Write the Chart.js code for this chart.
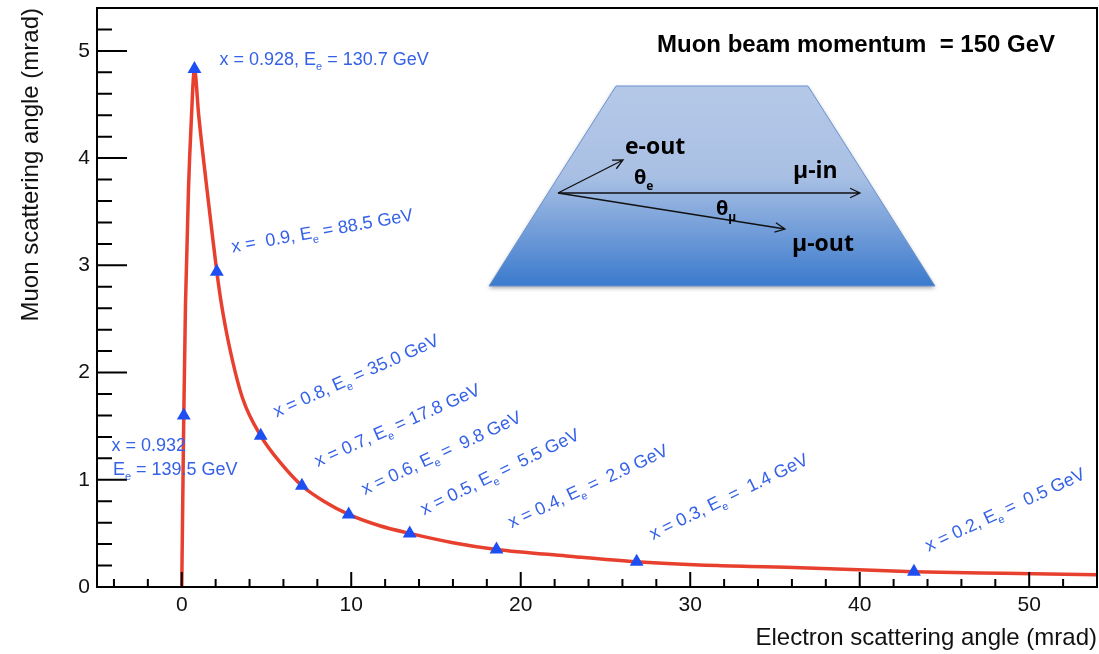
<!DOCTYPE html>
<html>
<head>
<meta charset="utf-8">
<script src="https://cdn.jsdelivr.net/npm/chart.js@4.4.0/dist/chart.umd.min.js"></script>
<style>
html, body { margin: 0; padding: 0; background: #fff; }
</style>
</head>
<body>
<canvas id="myChart" width="1099" height="654"></canvas>
<script>
// red curve (electron angle, muon angle) in mrad
const curveX = [0, 0.06, 0.12, 0.22, 0.40, 0.56, 0.75, 1.00, 1.45, 1.80, 2.07, 2.32, 2.80, 3.59, 4.66, 5.87, 7.09, 8.43, 9.85, 11.68, 13.45, 16.0, 18.57, 22.7, 26.84, 31.6, 36.5, 43.2, 48.5, 54]
const curveY = [0, 0.81, 1.60, 2.63, 3.72, 4.34, 4.83, 4.40, 3.76, 3.29, 2.94, 2.66, 2.25, 1.76, 1.41, 1.15, 0.944, 0.795, 0.677, 0.571, 0.50, 0.413, 0.35, 0.29, 0.236, 0.20, 0.18, 0.143, 0.128, 0.115]

// blue triangles
const markX = [0.12, 0.75, 2.07, 4.66, 7.09, 9.85, 13.45, 18.57, 26.84, 43.2]
const markY = [1.60, 4.83, 2.94, 1.41, 0.944, 0.677, 0.50, 0.35, 0.236, 0.143]
const markText = ['x = 0.932\nE_e = 139.5 GeV', 'x = 0.928, E_e = 130.7 GeV', 'x =  0.9, E_e = 88.5 GeV',
  'x = 0.8, E_e = 35.0 GeV', 'x = 0.7, E_e = 17.8 GeV', 'x = 0.6, E_e =  9.8 GeV', 'x = 0.5, E_e =  5.5 GeV',
  'x = 0.4, E_e =  2.9 GeV', 'x = 0.3, E_e =  1.4 GeV', 'x = 0.2, E_e =  0.5 GeV']

const xTicks = [0, 10, 20, 30, 40, 50]
const yTicks = [0, 1, 2, 3, 4, 5]

// where the labels sit (data units) and their tilt in degrees
const labelX = [-4.15, 2.23, 2.99, 5.59, 8.03, 10.8, 14.3, 19.46, 27.8, 44.06]
const labelY = [1.27, 4.87, 3.12, 1.58, 1.12, 0.857, 0.67, 0.547, 0.438, 0.329]
const labelAngle = [0, 0, -10, -24, -24, -25, -26, -25, -26, -25]

const FONT = '"Liberation Sans", Arial, sans-serif'

// draw text where "_e" / "_m" means subscript e / mu
function richText(ctx, str, x, y, size, family, weight) {
  const parts = str.split(/_(e|m)/)
  let cx = x
  for (let i = 0; i < parts.length; i++) {
    if (i % 2 == 0) {
      ctx.font = weight + ' ' + size + 'px ' + family
      ctx.fillText(parts[i], cx, y)
      cx += ctx.measureText(parts[i]).width
    } else {
      const s = parts[i] == 'e' ? 'e' : 'μ'
      const sub = Math.round(size * 0.62)
      ctx.font = weight + ' ' + sub + 'px ' + family
      ctx.fillText(s, cx, y + size * 0.28)
      cx += ctx.measureText(s).width
    }
  }
}

function arrow(ctx, x1, y1, x2, y2) {
  ctx.beginPath()
  ctx.moveTo(x1, y1)
  ctx.lineTo(x2, y2)
  const a = Math.atan2(y2 - y1, x2 - x1)
  const h = 11
  ctx.moveTo(x2 - h * Math.cos(a - 0.45), y2 - h * Math.sin(a - 0.45))
  ctx.lineTo(x2, y2)
  ctx.lineTo(x2 - h * Math.cos(a + 0.45), y2 - h * Math.sin(a + 0.45))
  ctx.stroke()
}

const decor = {
  id: 'decor',
  afterDraw(chart) {
    const ctx = chart.ctx
    const xs = chart.scales.x, ys = chart.scales.y
    const a = chart.chartArea
    ctx.save()

    // inward ticks
    ctx.strokeStyle = '#000'
    ctx.lineWidth = 2
    ctx.beginPath()
    for (let i = -2; i <= 27; i++) {
      const px = xs.getPixelForValue(i * 2)
      if (px <= a.left + 1 || px >= a.right - 1) continue
      const len = (i % 5 == 0) ? 15 : 8
      ctx.moveTo(px, a.bottom)
      ctx.lineTo(px, a.bottom - len)
    }
    for (let i = 1; i <= 27; i++) {
      const py = ys.getPixelForValue(i * 0.2)
      if (py <= a.top + 1) continue
      const len = (i % 5 == 0) ? 30 : 15
      ctx.moveTo(a.left, py)
      ctx.lineTo(a.left + len, py)
    }
    ctx.stroke()
    ctx.strokeRect(a.left, a.top, a.right - a.left, a.bottom - a.top)

    // point labels
    ctx.fillStyle = '#3561e8'
    ctx.textBaseline = 'alphabetic'
    ctx.textAlign = 'left'
    for (let i = 0; i < markText.length; i++) {
      const px = xs.getPixelForValue(labelX[i])
      const py = ys.getPixelForValue(labelY[i])
      ctx.save()
      ctx.translate(px, py)
      ctx.rotate(labelAngle[i] * Math.PI / 180)
      const lines = markText[i].split('\n')
      lines.forEach((ln, k) => richText(ctx, ln, k * 1.5, k * 24, 18, FONT, 'normal'))
      ctx.restore()
    }

    // title
    ctx.fillStyle = '#000'
    ctx.font = 'bold 24px ' + FONT
    ctx.fillText('Muon beam momentum  = 150 GeV', 657, 52)

    // inset sketch
    ctx.save()
    const g = ctx.createLinearGradient(0, 86, 0, 286)
    g.addColorStop(0, '#b5c8e8')
    g.addColorStop(0.45, '#a9c0e4')
    g.addColorStop(1, '#3b7acd')
    ctx.shadowColor = 'rgba(0,0,0,0.35)'
    ctx.shadowBlur = 4
    ctx.shadowOffsetY = 2
    ctx.beginPath()
    ctx.moveTo(616, 86)
    ctx.lineTo(808, 86)
    ctx.lineTo(935, 286)
    ctx.lineTo(489, 286)
    ctx.closePath()
    ctx.fillStyle = g
    ctx.fill()
    ctx.restore()
    ctx.strokeStyle = '#6a92d0'
    ctx.lineWidth = 1
    ctx.beginPath()
    ctx.moveTo(616, 86)
    ctx.lineTo(808, 86)
    ctx.lineTo(935, 286)
    ctx.lineTo(489, 286)
    ctx.closePath()
    ctx.stroke()

    ctx.strokeStyle = '#111'
    ctx.lineWidth = 1.3
    arrow(ctx, 558, 193, 623, 160)
    arrow(ctx, 558, 193, 860, 193)
    arrow(ctx, 558, 193, 785, 229)

    ctx.fillStyle = '#000'
    const IF = '"Open Sans", sans-serif'
    richText(ctx, 'e-out', 625, 154, 23, IF, 'bold')
    richText(ctx, 'θ_e', 634, 184, 20, IF, 'bold')
    richText(ctx, 'μ-in', 793, 178, 23, IF, 'bold')
    richText(ctx, 'θ_m', 716, 215, 20, IF, 'bold')
    richText(ctx, 'μ-out', 792, 251, 23, IF, 'bold')
    ctx.restore()
  }
}

const ctx = document.getElementById('myChart')
new Chart(ctx, {
  type: 'scatter',
  data: {
    datasets: [{
      label: 'points',
      data: markX.map((v, i) => ({x: v, y: markY[i]})),
      pointStyle: 'triangle',
      pointRadius: 8,
      pointBackgroundColor: '#1d4ff2',
      pointBorderWidth: 0,
      showLine: false
    }, {
      label: 'curve',
      data: curveX.map((v, i) => ({x: v, y: curveY[i]})),
      showLine: true,
      borderColor: '#e8402f',
      borderWidth: 3.5,
      pointRadius: 0,
      cubicInterpolationMode: 'monotone',
      fill: false
    }]
  },
  options: {
    responsive: false,
    animation: false,
    devicePixelRatio: 1,
    layout: { autoPadding: false, padding: { top: 8, right: 2, left: 0, bottom: 0 } },
    plugins: { legend: { display: false }, tooltip: { enabled: false } },
    scales: {
      x: {
        type: 'linear',
        min: -5,
        max: 54,
        afterBuildTicks: s => { s.ticks = xTicks.map(v => ({value: v})) },
        afterFit: s => { s.height = 67; s.paddingLeft = 0; s.paddingRight = 0 },
        grid: { display: false, drawTicks: false },
        border: { display: false },
        ticks: { font: { family: FONT, size: 21 }, color: '#111', padding: 6, maxRotation: 0 },
        title: { display: true, text: 'Electron scattering angle (mrad)', align: 'end',
          font: { family: FONT, size: 24 }, color: '#111', padding: { top: 0, bottom: 1 } }
      },
      y: {
        min: 0,
        max: 5.4,
        afterBuildTicks: s => { s.ticks = yTicks.map(v => ({value: v})) },
        afterFit: s => { s.width = 97; s.paddingTop = 0; s.paddingBottom = 0 },
        grid: { display: false, drawTicks: false },
        border: { display: false },
        ticks: { font: { family: FONT, size: 21 }, color: '#111', padding: 7 },
        title: { display: true, text: 'Muon scattering angle (mrad)', align: 'end',
          font: { family: FONT, size: 24 }, color: '#111', padding: { top: 17, bottom: 0 } }
      }
    }
  },
  plugins: [decor]
})
</script>
</body>
</html>
